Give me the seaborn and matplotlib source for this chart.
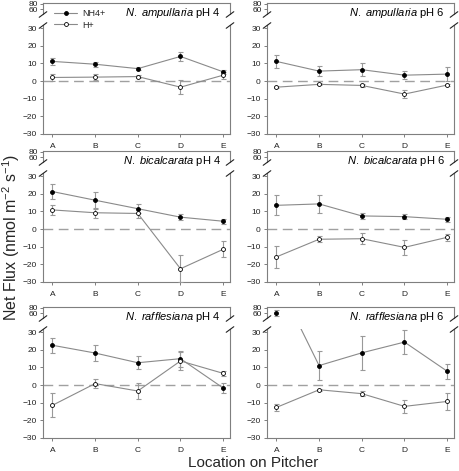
import numpy as np
import pandas as pd
import matplotlib
matplotlib.use("Agg")
import matplotlib.pyplot as plt
import seaborn as sns
from matplotlib.lines import Line2D

# ---------------- data ----------------
locations = ["A", "B", "C", "D", "E"]
series_names = ["NH4+", "H+"]
titles = [
    [r"$\mathit{N.\ ampullaria}$ pH 4", r"$\mathit{N.\ ampullaria}$ pH 6"],
    [r"$\mathit{N.\ bicalcarata}$ pH 4", r"$\mathit{N.\ bicalcarata}$ pH 6"],
    [r"$\mathit{N.\ rafflesiana}$ pH 4", r"$\mathit{N.\ rafflesiana}$ pH 6"],
]

nh4_amp4 = [11.1, 9.5, 7.0, 13.9, 5.2]
nh4_amp4_err = [2.2, 1.3, 1.0, 2.5, 1.0]
h_amp4 = [2.0, 2.2, 2.5, -3.5, 3.3]
h_amp4_err = [2.0, 1.8, 0.8, 3.8, 2.0]

nh4_amp6 = [11.1, 5.6, 6.4, 3.3, 3.9]
nh4_amp6_err = [3.6, 2.7, 3.7, 2.4, 4.0]
h_amp6 = [-3.5, -1.9, -2.5, -7.4, -2.3]
h_amp6_err = [0.5, 0.5, 0.8, 2.2, 0.8]

nh4_bic4 = [21.2, 16.3, 11.5, 6.7, 4.4]
nh4_bic4_err = [4.1, 4.8, 2.4, 1.8, 1.5]
h_bic4 = [10.8, 9.2, 8.8, -22.5, -11.5]
h_bic4_err = [3.0, 2.9, 2.6, 7.7, 4.6]

nh4_bic6 = [13.4, 14.2, 7.4, 7.0, 5.5]
nh4_bic6_err = [5.7, 5.0, 1.6, 1.5, 1.5]
h_bic6 = [-15.8, -5.8, -5.5, -10.4, -4.7]
h_bic6_err = [6.1, 1.8, 3.1, 4.3, 1.9]

nh4_raf4 = [22.5, 18.1, 12.6, 14.9, -1.7]
nh4_raf4_err = [4.2, 4.3, 3.8, 4.5, 3.0]
h_raf4 = [-11.5, 0.8, -3.4, 13.6, 6.6]
h_raf4_err = [6.8, 2.5, 4.4, 5.3, 1.3]

nh4_raf6 = [60.0, 11.0, 18.2, 24.3, 7.8]
nh4_raf6_err = [12.0, 8.3, 9.5, 6.6, 4.2]
h_raf6 = [-12.7, -2.7, -4.9, -12.1, -9.3]
h_raf6_err = [2.2, 0.7, 1.5, 3.8, 4.7]

panel_data = [
    [((nh4_amp4, nh4_amp4_err), (h_amp4, h_amp4_err)),
     ((nh4_amp6, nh4_amp6_err), (h_amp6, h_amp6_err))],
    [((nh4_bic4, nh4_bic4_err), (h_bic4, h_bic4_err)),
     ((nh4_bic6, nh4_bic6_err), (h_bic6, h_bic6_err))],
    [((nh4_raf4, nh4_raf4_err), (h_raf4, h_raf4_err)),
     ((nh4_raf6, nh4_raf6_err), (h_raf6, h_raf6_err))],
]

lower_ticks = [-30, -20, -10, 0, 10, 20, 30]
upper_ticks = [60, 80]

# ---------------- style ----------------
sns.set_theme(style="white")
plt.rcParams["font.family"] = ["Liberation Sans", "DejaVu Sans"]
plt.rcParams["mathtext.fontset"] = "custom"
plt.rcParams["mathtext.rm"] = "Liberation Sans"
plt.rcParams["mathtext.it"] = "Liberation Sans:italic"
plt.rcParams["mathtext.bf"] = "Liberation Sans:bold"

W, H = 459, 471
fig = plt.figure(figsize=(W / 100, H / 100), dpi=100)

col_left = [43, 267]
col_w = 187
row_top = [3, 151, 307]
spine_col = "#7f7f7f"
line_col = "#8a8a8a"
err_col = "#999999"

face = {"NH4+": "black", "H+": "white"}


def slash(xpx, ypx):
    dx, dy = 3.8, 2.8
    fig.add_artist(Line2D([(xpx - dx) / W, (xpx + dx) / W],
                          [1 - (ypx + dy) / H, 1 - (ypx - dy) / H],
                          transform=fig.transFigure, color="#222222", lw=0.8))


xs = np.arange(len(locations))

for r in range(3):
    for c in range(2):
        T = row_top[r]
        L = col_left[c]
        ax_up = fig.add_axes([L / W, 1 - (T + 11) / H, col_w / W, 11 / H])
        ax_lo = fig.add_axes([L / W, 1 - (T + 131) / H, col_w / W, 109 / H])
        for ax in (ax_up, ax_lo):
            ax.set_xlim(-0.22, 4.16)
            for s in ax.spines.values():
                s.set_color(spine_col)
                s.set_linewidth(0.8)
            ax.tick_params(axis="both", labelsize=6, colors="#222222",
                           length=2.5, width=0.7, pad=2, color=spine_col,
                           left=True, bottom=True, direction="out")
        ax_up.spines["bottom"].set_visible(False)
        ax_lo.spines["top"].set_visible(False)
        ax_up.set_ylim(42, 82)
        ax_up.set_yticks(upper_ticks)
        ax_up.set_xticks([])
        ax_up.tick_params(axis="y", pad=1)
        ax_lo.set_ylim(-30, 31.7)
        ax_lo.set_yticks(lower_ticks)
        ax_lo.set_xticks(xs)
        ax_lo.set_xticklabels(locations)
        ax_lo.tick_params(axis="x", pad=4)
        ax_lo.axhline(0, color="#a0a0a0", lw=1.0, dashes=(7, 4), zorder=1)

        for name, (vals, errs) in zip(series_names, panel_data[r][c]):
            df = pd.DataFrame({"loc": xs, "flux": vals})
            sns.lineplot(data=df, x="loc", y="flux", ax=ax_lo, color=line_col,
                         lw=0.8, legend=False, zorder=2)
            for ax in (ax_lo, ax_up):
                ax.errorbar(xs, vals, yerr=errs, fmt="none", ecolor=err_col,
                            elinewidth=0.8, capsize=1.8, capthick=0.8, zorder=3)
                sns.scatterplot(data=df, x="loc", y="flux", ax=ax, s=8,
                                color=face[name], edgecolor="black",
                                linewidth=0.6, legend=False, zorder=4)
            ax_lo.set_xlabel("")
            ax_lo.set_ylabel("")
            ax_up.set_xlabel("")
            ax_up.set_ylabel("")
        ax_lo.set_xlim(-0.22, 4.16)
        ax_up.set_xlim(-0.22, 4.16)

        for xp in (L, L + col_w):
            slash(xp, T + 11.5)
            slash(xp, T + 22.5)

        fig.text((L + col_w - 9) / W, 1 - (T + 13) / H, titles[r][c],
                 ha="right", va="baseline", fontsize=8, color="black")

handles = [
    Line2D([], [], color=line_col, lw=0.8, marker="o", ms=2.8,
           mfc="black", mec="black", mew=0.6),
    Line2D([], [], color=line_col, lw=0.8, marker="o", ms=2.8,
           mfc="white", mec="black", mew=0.6),
]
fig.legend(handles, series_names, loc="center left",
           bbox_to_anchor=(54 / W, 1 - 19.5 / H), frameon=False, fontsize=6.5,
           handlelength=2.6, handletextpad=0.5, labelspacing=0.25,
           borderpad=0, borderaxespad=0)

fig.text(11 / W, 1 - 237 / H, r"Net Flux (nmol m$^{-2}$ s$^{-1}$)",
         rotation=90, ha="center", va="center", fontsize=11.5)
fig.text(253 / W, 1 - 463 / H, "Location on Pitcher", ha="center",
         va="center", fontsize=11)

fig.savefig("out.png", dpi=100)
